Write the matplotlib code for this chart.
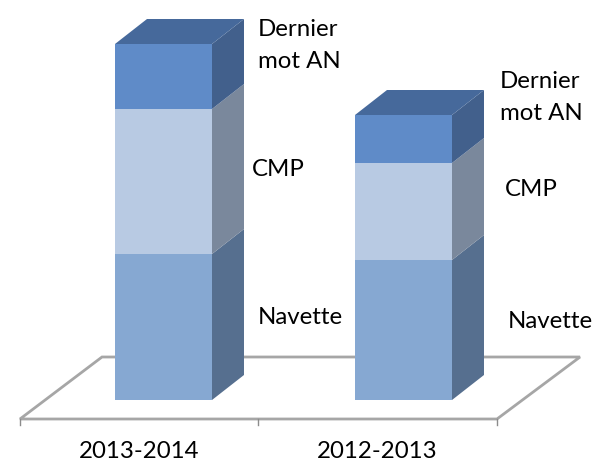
import matplotlib
matplotlib.use("Agg")
import matplotlib.pyplot as plt
from matplotlib.patches import Polygon

plt.rcParams['font.family'] = ['Lato', 'DejaVu Sans']

periods = ['2013-2014', '2012-2013']
series = ['Navette', 'CMP', 'Dernier', 'mot AN']
navette = [146, 140]
cmp_vals = [145, 97]
dernier = [65, 48]

front_colors = ['#86A8D2', '#B8CAE3', '#5F8BC8']
side_colors = ['#566F8F', '#7A889C', '#42608C']
top_color = '#46699B'

W, H = 597, 462
BASE = 400
fig = plt.figure(figsize=(W/100, H/100), dpi=100)
ax = fig.add_axes([0, 0, 1, 1])
ax.set_xlim(0, W)
ax.set_ylim(BASE - H, BASE)
ax.axis('off')

dx, dy = 32, 25
bar_w = 97
lefts = [115, 355]
FS = 17.3

ax.add_patch(Polygon([(20, -19), (102, 43), (580, 43), (497, -19)], closed=True,
                     fc='white', ec='#A6A6A6', lw=2, zorder=1))
for x in (20, 258, 497):
    ax.plot([x, x], [-19, -25], color='#8C8C8C', lw=1, zorder=1)

rows = [navette, cmp_vals, dernier]
for i, left in enumerate(lefts):
    bottom = 0
    r = left + bar_w
    for j, row in enumerate(rows):
        v = row[i]
        ax.bar(left, v, bar_w, bottom=bottom, align='edge', color=front_colors[j], lw=0, zorder=3)
        ax.add_patch(Polygon([(r, bottom), (r + dx, bottom + dy), (r + dx, bottom + v + dy), (r, bottom + v)],
                             closed=True, fc=side_colors[j], ec='none', zorder=2))
        bottom += v
    ax.add_patch(Polygon([(left, bottom), (r, bottom), (r + dx, bottom + dy), (left + dx, bottom + dy)],
                         closed=True, fc=top_color, ec='none', zorder=2))

label_x = [[258, 252, 258, 258], [508, 505, 500, 500]]
label_y = [[83, 230, 370, 338], [78, 210, 318, 287]]
for xs, ys in zip(label_x, label_y):
    for name, x, y in zip(series, xs, ys):
        ax.text(x, y, name, ha='left', va='center', fontsize=FS, color='black')

for x, p in zip((139, 377), periods):
    ax.text(x, -52, p, ha='center', va='center', fontsize=FS, color='black')

fig.savefig('out.png', dpi=100)
